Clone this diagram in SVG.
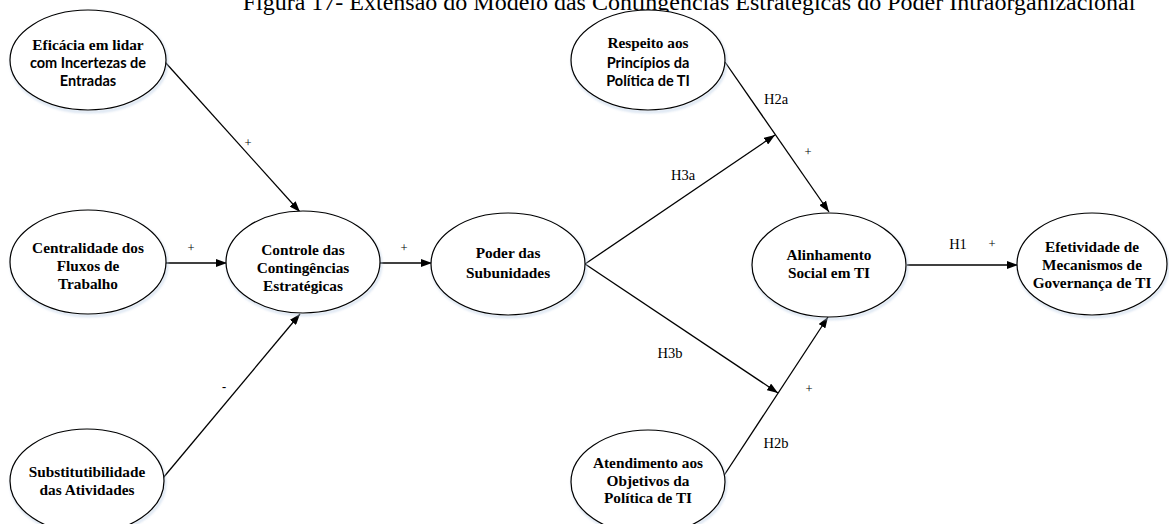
<svg xmlns="http://www.w3.org/2000/svg" width="1169" height="524" viewBox="0 0 1169 524">
  <style>
    .node ellipse.shape { fill: #ffffff; stroke: #000000; stroke-width: 1.2; }
    .node ellipse.shade { fill: none; stroke: #b9cde5; stroke-width: 2.5; opacity: 0.55; }
    .t { font-family: "Liberation Serif", "Times New Roman", serif; font-weight: bold; font-size: 15.3px; fill: #000; text-anchor: middle; }
    .s { font-family: Lato, "Liberation Sans", sans-serif; font-weight: bold; font-size: 14.5px; fill: #000; text-anchor: middle; }
    .lbl { font-family: "Liberation Serif", "Times New Roman", serif; font-size: 14.5px; fill: #000; text-anchor: middle; }
    .sign { font-family: "Liberation Serif", "Times New Roman", serif; font-size: 12.5px; fill: #000; text-anchor: middle; }
    .title { font-family: "Liberation Serif", "Times New Roman", serif; font-size: 24px; fill: #000; text-anchor: middle; }
    #connectors line { stroke: #000; stroke-width: 1.3; marker-end: url(#arrow); }
  </style>
  <defs>
    <marker id="arrow" markerUnits="userSpaceOnUse" markerWidth="11" markerHeight="8" refX="11" refY="4" orient="auto">
      <path d="M0,0 L11,4 L0,8 Z" fill="#000"/>
    </marker>
    <filter id="soft" x="-10%" y="-10%" width="120%" height="130%">
      <feGaussianBlur stdDeviation="1.2"/>
    </filter>
  </defs>

  <rect width="1169" height="524" fill="#ffffff"/>

  <text class="title" x="689" y="10">Figura 17- Extensão do Modelo das Contingências Estratégicas do Poder Intraorganizacional</text>

  <!-- connectors -->
  <g id="connectors">
    <line x1="165" y1="62" x2="300" y2="212"/>
    <line x1="165" y1="263" x2="227" y2="263"/>
    <line x1="163" y1="478" x2="300" y2="314"/>
    <line x1="380" y1="263" x2="432" y2="263"/>
    <line x1="585" y1="264" x2="775" y2="135"/>
    <line x1="585" y1="264" x2="778" y2="393"/>
    <line x1="725" y1="62" x2="829" y2="212"/>
    <line x1="723" y1="477" x2="828" y2="317"/>
    <line x1="907" y1="265" x2="1018" y2="265"/>
  </g>

  <!-- connector labels -->
  <g id="labels">
    <text class="sign" x="248" y="147">+</text>
    <text class="sign" x="191" y="252">+</text>
    <text class="sign" x="224" y="391" font-weight="bold">-</text>
    <text class="sign" x="404" y="252">+</text>
    <text class="lbl" x="683" y="180">H3a</text>
    <text class="lbl" x="670" y="358">H3b</text>
    <text class="lbl" x="776" y="104">H2a</text>
    <text class="sign" x="808" y="156">+</text>
    <text class="lbl" x="776" y="448">H2b</text>
    <text class="sign" x="809" y="393">+</text>
    <text class="lbl" x="958" y="249">H1</text>
    <text class="sign" x="992" y="248">+</text>
  </g>

  <g id="eficacia" class="node">
    <ellipse class="shade" cx="89" cy="62" rx="78" ry="50" filter="url(#soft)"/>
    <ellipse class="shape" cx="88" cy="60" rx="78" ry="50"/>
    <text class="t" x="88" y="50">Eficácia em lidar</text>
    <text class="s" x="88" y="68">com Incertezas de</text>
    <text class="s" x="88" y="86">Entradas</text>
  </g>

  <g id="centralidade" class="node">
    <ellipse class="shade" cx="89" cy="264" rx="78" ry="52" filter="url(#soft)"/>
    <ellipse class="shape" cx="88" cy="262" rx="78" ry="52"/>
    <text class="t" x="88" y="253">Centralidade dos</text>
    <text class="t" x="88" y="271">Fluxos de</text>
    <text class="t" x="88" y="289">Trabalho</text>
  </g>

  <g id="substitutibilidade" class="node">
    <ellipse class="shade" cx="88" cy="483" rx="77" ry="52" filter="url(#soft)"/>
    <ellipse class="shape" cx="87" cy="481" rx="77" ry="52"/>
    <text class="t" x="87" y="477">Substitutibilidade</text>
    <text class="t" x="87" y="495">das Atividades</text>
  </g>

  <g id="controle" class="node">
    <ellipse class="shade" cx="304" cy="264" rx="77" ry="51" filter="url(#soft)"/>
    <ellipse class="shape" cx="303" cy="262" rx="77" ry="51"/>
    <text class="t" x="303" y="255">Controle das</text>
    <text class="t" x="303" y="273">Contingências</text>
    <text class="t" x="303" y="291">Estratégicas</text>
  </g>

  <g id="poder" class="node">
    <ellipse class="shade" cx="509" cy="266" rx="77" ry="51" filter="url(#soft)"/>
    <ellipse class="shape" cx="508" cy="264" rx="77" ry="51"/>
    <text class="t" x="508" y="258">Poder das</text>
    <text class="t" x="508" y="278">Subunidades</text>
  </g>

  <g id="respeito" class="node">
    <ellipse class="shade" cx="649" cy="62" rx="77" ry="50" filter="url(#soft)"/>
    <ellipse class="shape" cx="648" cy="60" rx="77" ry="50"/>
    <text class="t" x="648" y="48">Respeito aos</text>
    <text class="s" x="648" y="68">Princípios da</text>
    <text class="s" x="648" y="86">Política de TI</text>
  </g>

  <g id="alinhamento" class="node">
    <ellipse class="shade" cx="830" cy="267" rx="77" ry="52" filter="url(#soft)"/>
    <ellipse class="shape" cx="829" cy="265" rx="77" ry="52"/>
    <text class="t" x="829" y="260">Alinhamento</text>
    <text class="t" x="829" y="278">Social em TI</text>
  </g>

  <g id="efetividade" class="node">
    <ellipse class="shade" cx="1093" cy="266" rx="75" ry="51" filter="url(#soft)"/>
    <ellipse class="shape" cx="1092" cy="264" rx="75" ry="51"/>
    <text class="t" x="1092" y="252">Efetividade de</text>
    <text class="t" x="1092" y="270">Mecanismos de</text>
    <text class="t" x="1092" y="288">Governança de TI</text>
  </g>

  <g id="atendimento" class="node">
    <ellipse class="shade" cx="649" cy="484" rx="77" ry="52" filter="url(#soft)"/>
    <ellipse class="shape" cx="648" cy="482" rx="77" ry="52"/>
    <text class="t" x="648" y="468">Atendimento aos</text>
    <text class="t" x="648" y="486">Objetivos da</text>
    <text class="t" x="648" y="503">Política de TI</text>
  </g>
</svg>
